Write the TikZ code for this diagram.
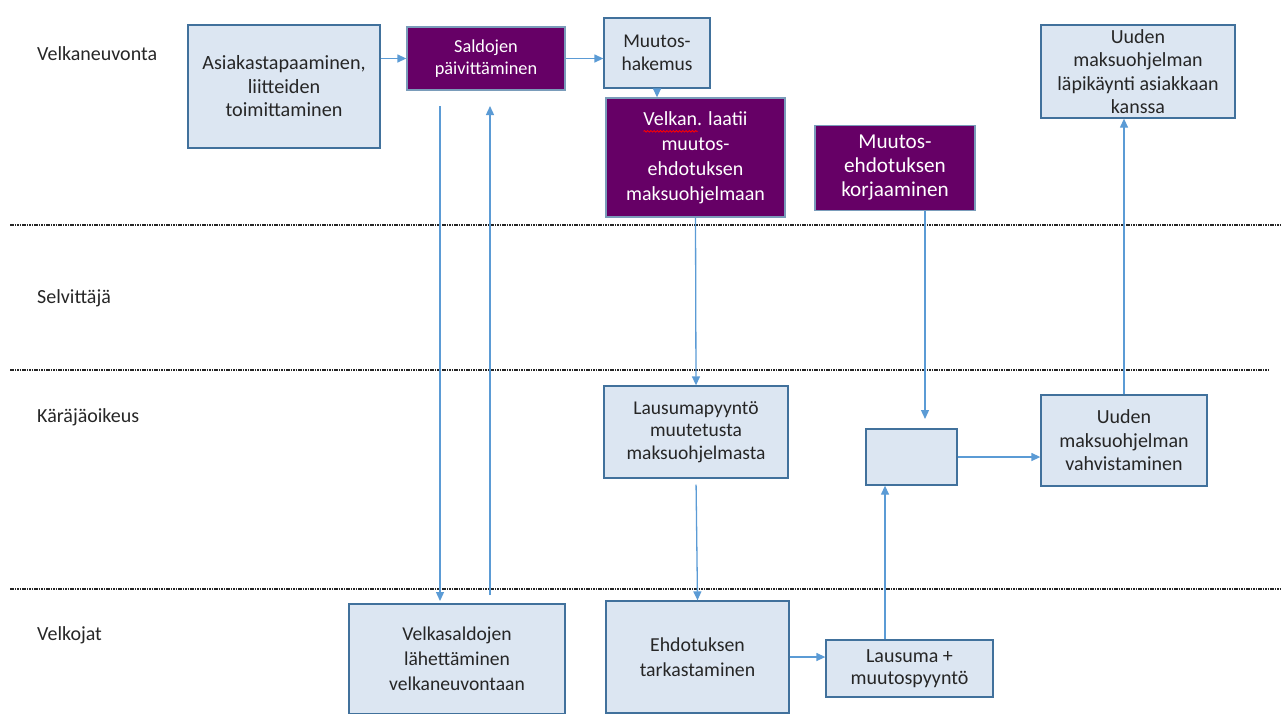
\documentclass[tikz,border=0pt]{standalone}
\usepackage{fontspec}
\setmainfont{Carlito}
\usetikzlibrary{arrows.meta,decorations.pathmorphing}
\definecolor{boxfill}{HTML}{DCE6F2}
\definecolor{boxline}{HTML}{41719C}
\definecolor{plum}{HTML}{660066}
\definecolor{flow}{HTML}{5B9BD5}
\newcommand\boxfont[1]{\fontsize{#1}{23.5}\selectfont}
\tikzset{
  lightbox/.style={draw=boxline, line width=1.3pt, fill=boxfill, align=center,
    inner sep=0pt, font=\boxfont{19.5}, text=black!85},
  plumbox/.style={draw=boxline!70, line width=1.3pt, fill=plum, align=center,
    inner sep=0pt, font=\boxfont{19.5}, text=white},
  flowarrow/.style={draw=flow, line width=1.3pt, -{Triangle[length=9pt,width=8pt]}},
  lanesep/.style={draw=black!85, line width=2pt, dash pattern=on 1.6pt off 0.8pt},
  lanename/.style={anchor=west, inner sep=0pt, font=\fontsize{20}{24}\selectfont, text=black!85},
  spellmark/.style={draw=red, line width=0.8pt, decorate,
    decoration={snake, amplitude=0.8pt, segment length=3.2pt}}
}
\begin{document}
\begin{tikzpicture}[x=1pt,y=-1pt]
\useasboundingbox (0,0) rectangle (1282,713);

% lane separators
\draw[lanesep] (10,225) -- (1282,225);
\draw[lanesep] (10,370) -- (1268,370);
\draw[lanesep] (10,589) -- (1282,589);

% lane names
\node[lanename] (l1) at (37,54) {Velkaneuvonta};
\node[lanename] (l2) at (37,298) {Selvittäjä};
\node[lanename] (l3) at (37,417) {Käräjäoikeus};
\node[lanename] (l4) at (37,635) {Velkojat};

% Velkaneuvonta
\node[lightbox, minimum width=192pt, minimum height=123pt, font=\boxfont{20.2}] (asia) at (284,86.5)
  {Asiakastapaaminen,\\liitteiden\\toimittaminen};
\node[plumbox, minimum width=158pt, minimum height=63pt,
  font=\fontsize{18.3}{22}\selectfont] (saldo) at (486,58.5)
  {Saldojen\\päivittäminen};
\node[lightbox, minimum width=106pt, minimum height=70pt] (hake) at (657,53)
  {Muutos-\\hakemus};
\node[plumbox, minimum width=179pt, minimum height=119pt, font=\fontsize{20}{25}\selectfont] (laatii) at (695.5,157.5)
  {Velkan. laatii\\muutos-\\ehdotuksen\\maksuohjelmaan};
\node[plumbox, minimum width=160pt, minimum height=85pt, font=\fontsize{21.2}{24}\selectfont] (korj) at (895,168)
  {Muutos-\\ehdotuksen\\korjaaminen};
\node[lightbox, minimum width=194pt, minimum height=93pt,
  font=\fontsize{20}{23.3}\selectfont] (lapi) at (1138,71.5)
  {Uuden\\maksuohjelman\\läpikäynti asiakkaan\\kanssa};

% spelling mark under "Velkan"
\draw[spellmark] ([shift={(-52,34)}]laatii.north) -- ([shift={(2,34)}]laatii.north);

% Käräjäoikeus
\node[lightbox, minimum width=184pt, minimum height=92pt, font=\fontsize{19.5}{22.5}\selectfont] (lausp) at (696,432)
  {Lausumapyyntö\\muutetusta\\maksuohjelmasta};
\node[lightbox, minimum width=91pt, minimum height=56pt] (empty) at (911.5,457) {};
\node[lightbox, minimum width=166pt, minimum height=91pt, font=\boxfont{20}] (vahv) at (1124,440.5)
  {Uuden\\maksuohjelman\\vahvistaminen};

% Velkojat
\node[lightbox, minimum width=216pt, minimum height=110pt, font=\fontsize{19.6}{25}\selectfont] (velks) at (457,659)
  {Velkasaldojen\\lähettäminen\\velkaneuvontaan};
\node[lightbox, minimum width=183pt, minimum height=112pt, font=\fontsize{19.8}{25}\selectfont] (ehd) at (697.5,657)
  {Ehdotuksen\\tarkastaminen};
\node[lightbox, minimum width=167pt, minimum height=57pt, font=\fontsize{20}{22}\selectfont] (lausu) at (909.5,668.5)
  {Lausuma +\\muutospyyntö};

% free ends of the long vertical connectors
\coordinate (downtop) at (440,106);
\coordinate (downend) at (440,601);
\coordinate (uptop) at (490,106);
\coordinate (upstart) at (490,595);
\coordinate (korjend) at (925,419);
\coordinate (lausux) at (885,0);

% connectors
\draw[flowarrow] (asia.east |- saldo.west) -- (saldo.west);
\draw[flowarrow] (saldo.east) -- (saldo.east -| hake.west);
\draw[flowarrow] (hake.south) -- (hake.south |- laatii.north);
\draw[flowarrow] (downtop) -- (downend);
\draw[flowarrow] (upstart) -- (uptop);
\draw[flowarrow] (laatii.south) -- (lausp.north);
\draw[flowarrow, shorten <=6pt] (lausp.south) -- (ehd.north);
\draw[flowarrow] (korj.south -| korjend) -- (korjend);
\draw[flowarrow] (lausu.north -| lausux) -- (empty.south -| lausux);
\draw[flowarrow] (empty.east) -- (empty.east -| vahv.west);
\draw[flowarrow] (vahv.north) -- (vahv.north |- lapi.south);
\draw[flowarrow] (ehd.east) -- (ehd.east -| lausu.west);
\end{tikzpicture}
\end{document}
